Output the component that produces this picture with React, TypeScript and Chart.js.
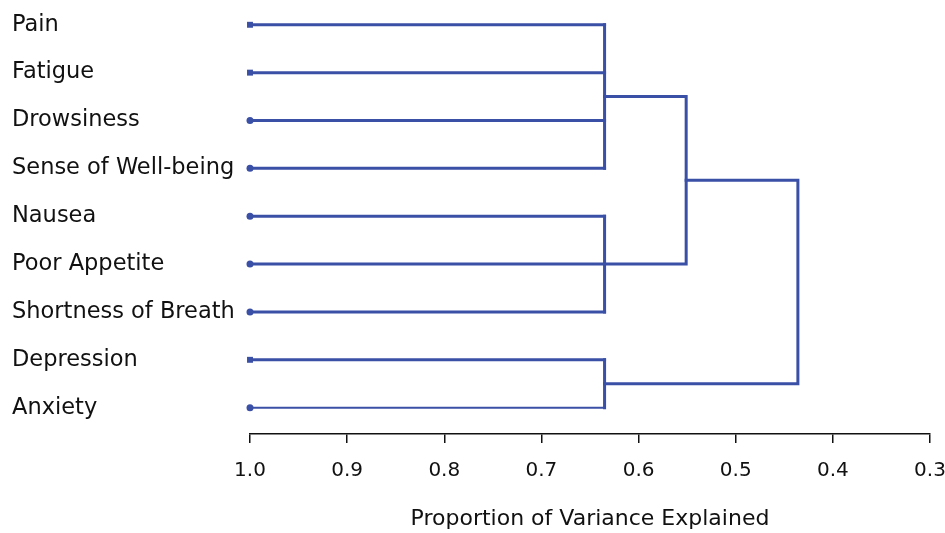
import React, { useEffect, useRef } from "react";
import { Chart, registerables } from "chart.js";

Chart.register(...registerables);

// ---- Data ----
const categories = [
  "Pain",
  "Fatigue",
  "Drowsiness",
  "Sense of Well-being",
  "Nausea",
  "Poor Appetite",
  "Shortness of Breath",
  "Depression",
  "Anxiety",
];
const leafValue = 1.0;
const clusterMembers = [
  [0, 1, 2, 3],
  [4, 5, 6],
  [7, 8],
];
const clusterHeights = [0.635, 0.635, 0.635];
// first: cluster 1 + cluster 2, second: (1+2) + cluster 3
const mergeHeights = [0.551, 0.436];
const xTicks = [1.0, 0.9, 0.8, 0.7, 0.6, 0.5, 0.4, 0.3];
const leafMarkers = ["rect", "rect", "circle", "circle", "circle", "circle", "circle", "rect", "circle"];
const xTitle = "Proportion of Variance Explained";

const BLUE = "#3A4FA6";
const FONT = "'DejaVu Sans', 'Liberation Sans', Arial, sans-serif";

function buildDatasets() {
  const ds: any[] = [];
  const base = {
    showLine: true,
    borderColor: BLUE,
    backgroundColor: BLUE,
    borderWidth: 3,
    borderJoinStyle: "miter",
    borderCapStyle: "square",
    clip: false,
    pointRadius: 0,
    pointHoverRadius: 0,
  };
  clusterMembers.forEach((members, c) => {
    const h = clusterHeights[c];
    members.forEach((i) => {
      const isRect = leafMarkers[i] === "rect";
      ds.push({
        ...base,
        borderWidth: i === categories.length - 1 ? 2 : 3,
        data: [
          { x: leafValue, y: i },
          { x: h, y: i },
        ],
        pointRadius: [isRect ? 4.2 : 3.5, 0],
        pointStyle: leafMarkers[i],
        pointBorderWidth: 0,
      });
    });
    ds.push({
      ...base,
      data: [
        { x: h, y: members[0] },
        { x: h, y: members[members.length - 1] },
      ],
    });
  });
  const mid = (m: number[]) => (m[0] + m[m.length - 1]) / 2;
  const yA = mid(clusterMembers[0]);
  const yB = mid(clusterMembers[1]);
  const yC = mid(clusterMembers[2]);
  const yAB = (yA + yB) / 2;
  ds.push({
    ...base,
    data: [
      { x: clusterHeights[0], y: yA },
      { x: mergeHeights[0], y: yA },
      { x: mergeHeights[0], y: yB },
      { x: clusterHeights[1], y: yB },
    ],
  });
  ds.push({
    ...base,
    data: [
      { x: mergeHeights[0], y: yAB },
      { x: mergeHeights[1], y: yAB },
      { x: mergeHeights[1], y: yC },
      { x: clusterHeights[2], y: yC },
    ],
  });
  return ds;
}

export default function App() {
  const ref = useRef<HTMLCanvasElement | null>(null);
  useEffect(() => {
    if (!ref.current) return;
    const chart = new Chart(ref.current, {
      type: "scatter",
      data: { datasets: buildDatasets() },
      options: {
        animation: false,
        responsive: true,
        maintainAspectRatio: false,
        layout: { padding: { left: 12, right: 15, top: 0, bottom: 0 } },
        plugins: { legend: { display: false }, tooltip: { enabled: false } },
        scales: {
          x: {
            type: "linear",
            reverse: true,
            min: 0.3,
            max: 1.0,
            afterBuildTicks: (axis: any) => {
              axis.ticks = xTicks.map((v) => ({ value: v }));
            },
            afterFit: (axis: any) => {
              axis.height = 99;
              axis.paddingLeft = 0;
              axis.paddingRight = 0;
            },
            grid: {
              display: true,
              drawOnChartArea: false,
              drawTicks: true,
              tickLength: 9,
              color: "#111",
              lineWidth: 1.5,
            },
            border: { display: true, color: "#111", width: 1.5 },
            ticks: {
              color: "#111",
              font: { family: FONT, size: 20 },
              padding: 16,
              maxRotation: 0,
              callback: (v: any) => Number(v).toFixed(1),
            },
            title: {
              display: true,
              text: xTitle,
              color: "#111",
              font: { family: FONT, size: 22 },
              padding: { top: 0, bottom: 1 },
            },
          },
          y: {
            type: "linear",
            reverse: true,
            min: -0.43,
            max: 8.55,
            afterBuildTicks: (axis: any) => {
              axis.ticks = categories.map((_, i) => ({ value: i }));
            },
            afterFit: (axis: any) => {
              axis.width = 238;
              axis.paddingTop = 0;
              axis.paddingBottom = 0;
            },
            grid: { display: false },
            border: { display: false },
            ticks: {
              color: "#111",
              crossAlign: "far",
              font: { family: FONT, size: 22.5 },
              callback: (v: any) => categories[Math.round(Number(v))] ?? "",
            },
          },
        },
      } as any,
    });
    return () => chart.destroy();
  }, []);
  return (
    <div style={{ position: "absolute", left: 0, top: 0, width: 945, height: 533, background: "#fff" }}>
      <canvas ref={ref} />
    </div>
  );
}
